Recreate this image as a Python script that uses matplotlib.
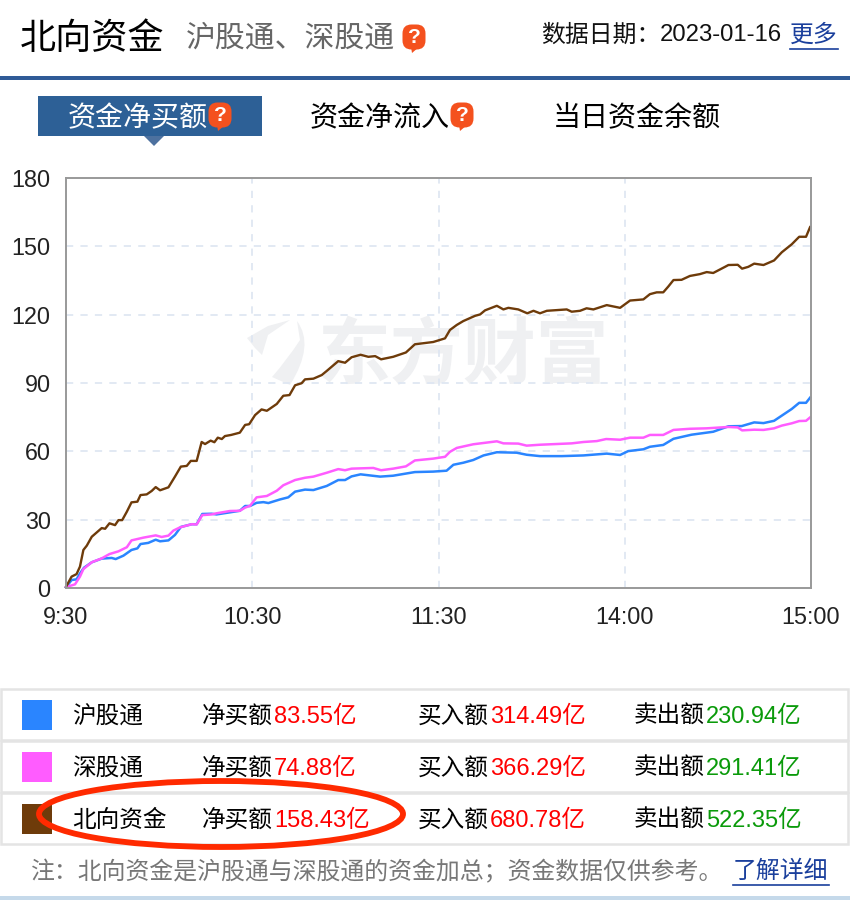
import matplotlib
matplotlib.use("Agg")
import matplotlib.pyplot as plt
from matplotlib.patches import Rectangle, Ellipse, FancyBboxPatch, Polygon, PathPatch
from matplotlib.path import Path

plt.rcParams['font.family'] = ['Liberation Sans', 'Noto Sans CJK SC', 'DejaVu Sans']

# values in 亿; x is minutes of trading since 9:30
north_t = [0, 1.8, 3.4, 4.5, 5.6, 6.7, 8.3, 11.5, 12.6, 14, 15.8, 16.9, 18.1, 19.6, 21.1, 23, 24, 26, 27.6,
           28.9, 30.3, 33, 35.1, 37, 38.9, 40.2, 42.1, 43.7, 44.8, 46.6, 47.8, 48.9, 50.2, 51.2, 53.2, 56,
           57.7, 59, 60.9, 63, 64.7, 67.9, 70, 72, 73.8, 75.9, 77, 79.7, 82.4, 84, 87.7, 89.9, 92, 94.9,
           97.4, 99.6, 101.5, 105.4, 109.5, 112.4, 118.3, 122.1, 123.7, 125.9, 128, 131.8, 133.4, 135,
           138.8, 140.9, 142.5, 145.7, 148.6, 150.6, 152.7, 154.9, 161.3, 162.9, 165.6, 167.7, 169.9,
           174.2, 178.5, 181.7, 186, 188.1, 190.3, 192.4, 194, 195.7, 198.3, 201, 204.2, 206.4, 208.5,
           212.3, 213.4, 216.4, 217.8, 219.8, 221.7, 224.7, 228.1, 230.6, 233.8, 236.2, 238.4, 239.7]
north_v = [0.5, 5, 6.1, 9.4, 16.7, 18.6, 22.5, 26.3, 26, 28.4, 27.6, 29.8, 29.8, 33.5, 37.6, 37.9, 40.8, 41.1, 42.6,
           44.3, 42.9, 44.2, 48.9, 53.3, 53.6, 55.8, 55.8, 64.1, 63.2, 64.7, 64, 66, 65.4, 66.7, 67.2, 68.2,
           71.6, 71.9, 75.9, 78.4, 77.8, 80.8, 84.4, 84.7, 89, 89.9, 91.6, 91.9, 93.5, 95.3, 99.6, 98.9, 101.3, 102.4,
           101.5, 101.8, 100.4, 101.5, 103.4, 107, 108, 109.6, 113.3, 115.5, 117.2, 119.5, 120.1, 121.9,
           123.9, 122.3, 123, 122.3, 120.6, 121.7, 120.6, 121.7, 122.3, 121.3, 121.7, 122.8, 122.3,
           124.2, 123, 126.2, 126.7, 129, 129.8, 129.8, 132.3, 135.2, 135.3, 137, 137.8, 138.7, 138.3,
           141, 141.8, 141.9, 140.2, 141, 142.4, 141.8, 143.8, 147.4, 150.9, 154.2, 154.2, 158.43]

sz_t = [0, 2.9, 4.5, 5.6, 8.3, 11.5, 14, 16.9, 19.6, 21.1, 24.9, 28.9, 30.8, 33, 34.6, 36.7, 40.5, 42.1,
        43.9, 46.9, 48.5, 52.8, 56, 57.7, 59.3, 61.4, 64.7, 67.9, 70, 73.8, 77, 79.7, 84, 87.7, 89.9, 92,
        99, 101.5, 105.4, 109.5, 112.4, 118.3, 122.1, 123.7, 125.9, 131.2, 138.8, 140.9, 145.7, 148.4,
        152.7, 162.9, 166.7, 171, 174, 178.5, 181.7, 186, 188.1, 192.4, 195.7, 201, 206.4, 213.4, 216.4,
        217.8, 221.7, 224.7, 228.1, 230.6, 233.8, 236.2, 238.4, 239.7]
sz_v = [0.4, 1.6, 5, 8.3, 11.3, 13, 14.9, 16.1, 17.9, 20.9, 22.1, 23.1, 22.4, 23, 25.2, 26.6, 28, 27.9,
        32, 32.3, 32.8, 33.8, 33.9, 35.3, 36.1, 39.8, 40.4, 42.7, 45.1, 47.4, 48.4, 48.9, 50.6, 52.2, 51.7, 52.4,
        52.7, 51.7, 52.4, 53.4, 56, 56.8, 57.6, 59.8, 61.5, 63.1, 64.4, 63.5, 63.4, 62.5,
        62.9, 63.5, 64.1, 64.5, 65.4, 65.1, 66, 66, 67.2, 67.2, 69.4, 69.9, 70.1, 70.7, 70.5,
        69.2, 69.5, 69.4, 70.1, 71.3, 72.3, 73.3, 73.4, 74.88]

sh_t = [0, 1.8, 3.4, 4.5, 5.8, 8.3, 11.5, 14.7, 16, 18.5, 21.1, 23, 24, 26.5, 28.9, 30.3, 33, 35.1, 37, 40.5,
        42.1, 43.9, 46.9, 48.5, 56, 57.7, 59.3, 61.4, 63.6, 65.2, 69, 71.6, 73.8, 77, 79.7, 84, 87.7, 89.9,
        92, 94.9, 101.2, 105.4, 112.4, 118.3, 122.6, 124.8, 128, 131.2, 134.5, 138.8, 145.2, 148.4, 152.7,
        159.7, 166.7, 174.2, 178.5, 181.1, 186, 188.1, 192.4, 195.7, 201.5, 208.5, 213.4, 217.7, 221.7,
        224.7, 228.1, 233.8, 236.2, 238.4, 239.7]
sh_v = [0.3, 3.5, 3.8, 6.4, 8.9, 11.3, 12.9, 13.2, 12.7, 14.2, 16.7, 17.4, 19.3, 19.8, 21.2, 20.5, 20.9, 23.3, 26.8, 28,
        28, 32.5, 32.6, 32.3, 33.9, 36, 36, 37.4, 37.7, 37.3, 38.9, 39.8, 42.3, 43.2, 43, 44.8, 47.4, 47.4,
        49, 49.9, 48.9, 49.3, 50.9, 51.1, 51.5, 54.1, 55, 56.2, 58.2, 59.6, 59.4, 58.5, 57.9,
        57.9, 58.2, 59, 58.4, 60.1, 60.9, 62, 62.8, 65.5, 67.3, 68.6, 71, 71.1, 72.7,
        72.4, 73.4, 78.6, 81.3, 81.3, 83.55]

y_ticks = [0, 30, 60, 90, 120, 150, 180]
x_ticks = [0, 60, 120, 180, 240]
x_labels = ["9:30", "10:30", "11:30", "14:00", "15:00"]

names = ["沪股通", "深股通", "北向资金"]
net = ["83.55亿", "74.88亿", "158.43亿"]
buy = ["314.49亿", "366.29亿", "680.78亿"]
sell = ["230.94亿", "291.41亿", "522.35亿"]
colors = ["#2a85ff", "#ff5cff", "#6e3b0a"]

W, H = 850, 900
WATERMARK = "#eff0f2"
fig = plt.figure(figsize=(8.5, 9), dpi=100)

# page furniture goes on one full-size axes in pixel units
bg = fig.add_axes([0, 0, 1, 1], zorder=0)
bg.set_xlim(0, W)
bg.set_ylim(H, 0)
bg.axis("off")


def ask_icon(x, y):
    bg.add_patch(FancyBboxPatch((x + 5, y + 4), 14, 16, boxstyle="round,pad=4.5,rounding_size=9",
                                fc="#f4511e", ec="none", zorder=5))
    bg.add_patch(Polygon([(x + 9, y + 22), (x + 17, y + 22), (x + 10, y + 28)], fc="#f4511e", ec="none", zorder=5))
    bg.text(x + 12, y + 12.5, "?", color="white", fontsize=15, fontweight="bold", ha="center", va="center", zorder=6)


def link(x, y, s):
    bg.text(x, y, s, color="#1a3f9c", fontsize=17.2, ha="left", va="center")
    bg.plot([x, x + 24 * len(s)], [y + 13, y + 13], color="#1a3f9c", lw=1.2)


# header
bg.text(20, 39, "北向资金", fontsize=26, color="black", ha="left", va="center")
bg.text(186, 39, "沪股通、深股通", fontsize=21.5, color="#666666", ha="left", va="center")
ask_icon(402, 25)
bg.text(541, 36, "数据日期：", fontsize=17.2, color="#111111", ha="left", va="center")
bg.text(660, 35, "2023-01-16", fontsize=17.2, color="#111111", ha="left", va="center")
link(790, 36, "更多")
bg.add_patch(Rectangle((0, 76), W, 4, fc="#2f5b97", ec="none"))

# tabs
bg.add_patch(Rectangle((38, 96), 224, 40, fc="#2d6096", ec="none"))
bg.add_patch(Polygon([(144, 136), (164, 136), (154, 146)], fc="#4d719f", ec="none"))
bg.text(68, 119, "资金净买额", fontsize=20.2, color="white", ha="left", va="center")
ask_icon(208, 103)
bg.text(310, 119, "资金净流入", fontsize=20.2, color="black", ha="left", va="center")
ask_icon(450, 103)
bg.text(553, 119, "当日资金余额", fontsize=20.2, color="black", ha="left", va="center")

# watermark
bg.text(318, 358, "东方财富", fontsize=52.5, fontweight="bold", color=WATERMARK, ha="left", va="center")
bg.add_patch(Polygon([(247, 338), (268, 326), (290, 320), (268, 335), (262, 355), (255, 348)],
                     fc=WATERMARK, ec="none"))
swoosh = Path([(297, 321), (315, 345), (290, 385), (272, 377), (287, 360), (300, 340), (297, 321)],
              [Path.MOVETO, Path.CURVE3, Path.CURVE3, Path.LINETO, Path.CURVE3, Path.CURVE3, Path.CLOSEPOLY])
bg.add_patch(PathPatch(swoosh, fc=WATERMARK, ec="none"))

# chart
ax = fig.add_axes([66 / W, 1 - 588 / H, (811 - 66) / W, (588 - 178) / H], zorder=1)
ax.patch.set_alpha(0)
ax.set_xlim(0, 240)
ax.set_ylim(0, 180)
ax.set_yticks(y_ticks)
ax.set_xticks(x_ticks)
ax.set_xticklabels(x_labels)
ax.tick_params(length=0, labelsize=16.8, labelcolor="#222222")
ax.tick_params(axis="y", pad=11)
ax.tick_params(axis="x", pad=13)
ax.grid(True, color="#dfe7f2", lw=1.3, ls=(0, (4, 4)))
ax.set_axisbelow(True)
for s in ax.spines.values():
    s.set_color("#999999")
    s.set_linewidth(1.4)
ax.plot(sh_t, sh_v, color=colors[0], lw=1.8, clip_on=False)
ax.plot(sz_t, sz_v, color=colors[1], lw=1.8, clip_on=False)
ax.plot(north_t, north_v, color=colors[2], lw=1.7, clip_on=False)

# table below the chart
row_tops = [689, 741, 793]
for top, name, n, b, s, c in zip(row_tops, names, net, buy, sell, colors):
    bg.add_patch(Rectangle((1, top), 847, 51, fc="white", ec="#e4e4e4", lw=1.8))
    bg.add_patch(Rectangle((22, top + 11), 30, 30, fc=c, ec="none"))
    mid = top + 28
    bg.text(72, mid, name, fontsize=17, color="black", ha="left", va="center")
    for x, label, value, col in [(202, "净买额", n, "#ff0000"), (418, "买入额", b, "#ff0000"),
                                 (634, "卖出额", s, "#0a9a0a")]:
        bg.text(x, mid, label, fontsize=17, color="black", ha="left", va="center")
        bg.text(x + 72, mid, value, fontsize=17, color=col, ha="left", va="center")

bg.add_patch(Ellipse((221, 814), 364, 66, fc="none", ec="#ff2a00", lw=4.2, zorder=4))

# footnote
bg.text(31, 872, "注：北向资金是沪股通与深股通的资金加总；资金数据仅供参考。", fontsize=17.2, color="#777777",
        ha="left", va="center")
link(733, 872, "了解详细")
bg.add_patch(Rectangle((0, 896), W, 4, fc="#c5d9ea", ec="none"))

fig.savefig("out.png", dpi=100)
